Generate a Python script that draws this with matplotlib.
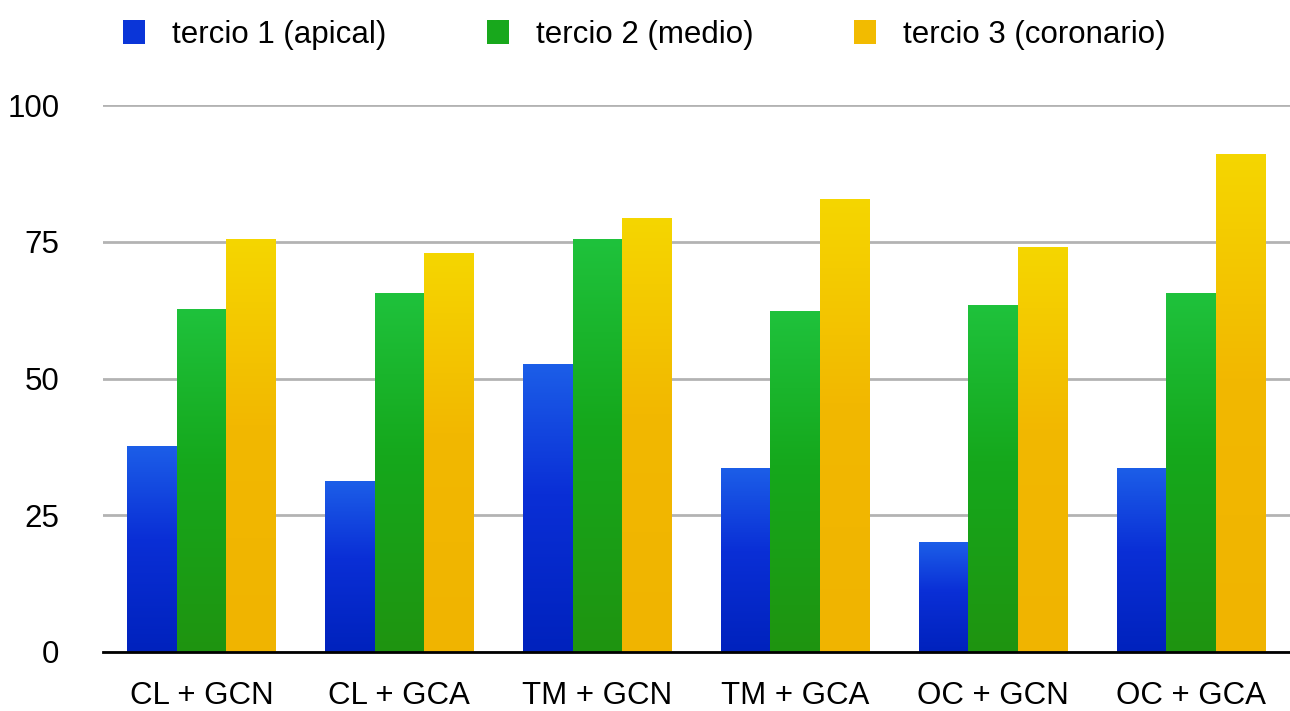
import numpy as np
import matplotlib.pyplot as plt
from matplotlib.colors import LinearSegmentedColormap
from matplotlib.patches import Patch

plt.rcParams['font.family'] = ['Liberation Sans', 'DejaVu Sans']

grupos = ['CL + GCN', 'CL + GCA', 'TM + GCN', 'TM + GCA', 'OC + GCN', 'OC + GCA']
series = ['tercio 1 (apical)', 'tercio 2 (medio)', 'tercio 3 (coronario)']
apical = [37.5, 31.2, 52.5, 33.5, 20.0, 33.5]
medio = [62.7, 65.6, 75.5, 62.3, 63.3, 65.6]
coronario = [75.5, 72.9, 79.3, 82.8, 74.0, 91.0]
yticks = [0, 25, 50, 75, 100]

# (top, middle, bottom) colours for each series
gradientes = [
    ['#1c5ee8', '#0a2fd6', '#0022bd'],
    ['#1fc23c', '#15a81c', '#1f9410'],
    ['#f5d600', '#f2b800', '#f0b400'],
]
leyenda = ['#0a35d8', '#18a81c', '#f2bb00']

fig = plt.figure(figsize=(12.9, 7.11), dpi=100)
ax = fig.add_axes([0.0795, 0.083, 0.9205, 0.769])

x = np.arange(len(grupos))
ancho = 0.25
rampa = np.linspace(0, 1, 256).reshape(-1, 1)

for i, valores in enumerate([apical, medio, coronario]):
    cmap = LinearSegmentedColormap.from_list('g%d' % i,
                                             [(0, gradientes[i][0]), (0.45, gradientes[i][1]), (1, gradientes[i][2])])
    barras = ax.bar(x + (i - 1) * ancho, valores, ancho, color=leyenda[i], zorder=2)
    for b in barras:
        x0 = b.get_x()
        ax.imshow(rampa, cmap=cmap, extent=[x0, x0 + b.get_width(), 0, b.get_height()],
                  aspect='auto', origin='upper', zorder=3, interpolation='bilinear')

ax.set_xlim(-0.5, len(grupos) - 0.5)
ax.set_ylim(0, 100)
ax.set_yticks(yticks)
ax.set_xticks(x)
ax.set_xticklabels(grupos)
ax.tick_params(length=0, labelsize=22.5)
ax.tick_params(axis='y', pad=31)
ax.tick_params(axis='x', pad=21)

ax.yaxis.grid(True, color='#b3b3b3', linewidth=2)
ax.set_axisbelow(True)
for s in ['top', 'right', 'left']:
    ax.spines[s].set_visible(False)
ax.spines['bottom'].set_linewidth(2)
ax.spines['bottom'].set_zorder(5)

handles = [Patch(facecolor=c, label=s) for c, s in zip(leyenda, series)]
fig.legend(handles=handles, loc='upper left', bbox_to_anchor=(0.0953, 0.972), ncol=3,
           frameon=False, fontsize=22.5, handlelength=0.72, handleheight=0.8,
           handletextpad=0.86, columnspacing=3.2, borderpad=0, borderaxespad=0)

fig.savefig('out.png', dpi=100)
